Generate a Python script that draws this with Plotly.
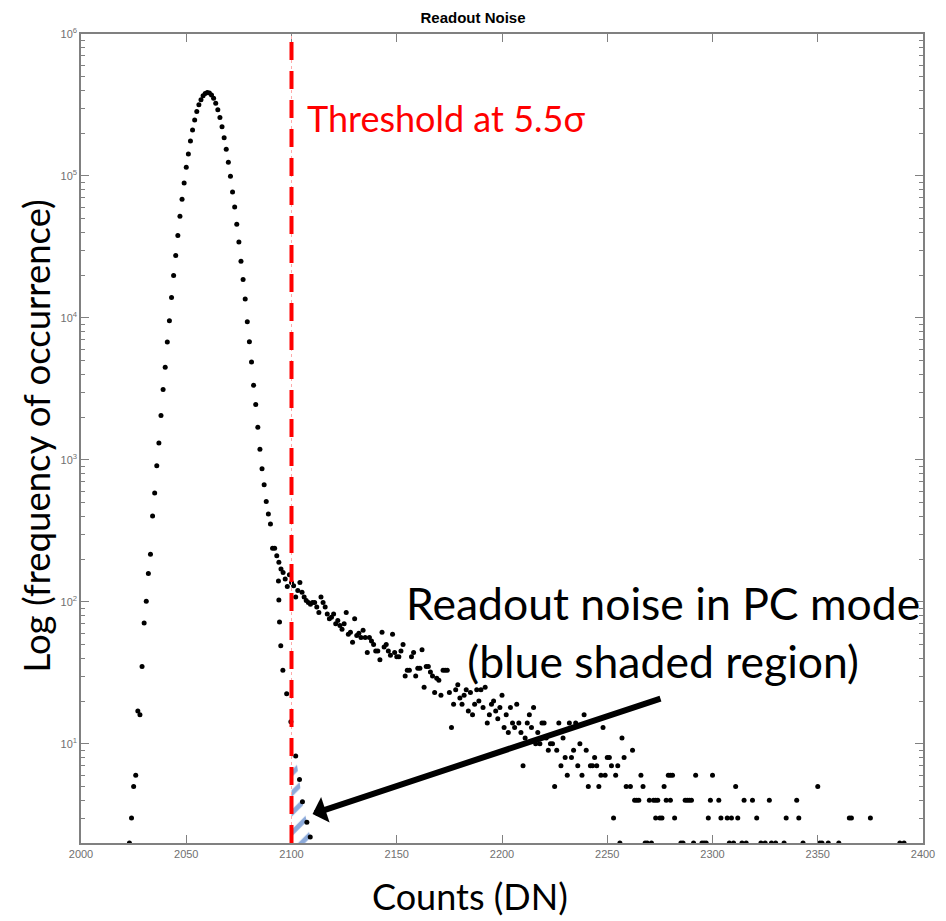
import numpy as np
import plotly.graph_objects as go

# ---------------- data ----------------
threshold_dn = 2100

# main histogram: Gaussian readout-noise peak plus the shoulder up to the threshold
main_dn = list(range(2023, 2101))
main_counts = [
    2, 3, 5, 6, 17, 16, 35, 71, 101, 158,
    216, 403, 585, 910, 1315, 2057, 3126, 4494, 6755, 9550,
    13930, 19900, 27540, 38110, 52000, 68550, 89330, 115100, 142900, 176600,
    210600, 248300, 284400, 317000, 343600, 367300, 381000, 387300, 383700, 371500,
    353200, 325800, 292400, 257600, 221800, 186200, 154200, 125000, 99540, 77090,
    60390, 45600, 34200, 25120, 18660, 13610, 9380, 6790, 4900, 3350,
    2455, 1700, 1190, 865, 667, 510, 415, 354, 238, 238,
    211, 190, 170, 161, 145, 128, 155, 137,
]

# steep continuation of the noise Gaussian (crosses the threshold)
noise_dn = [2093.8, 2094.0, 2094.3, 2094.9, 2095.9, 2097.7, 2099.7,
            2102.0, 2103.8, 2105.2, 2107.3, 2108.9]
noise_counts = [140, 103, 72, 49, 33, 22.5, 14.3, 8.2, 5.6, 3.9, 2.8, 2.2]

# slowly decaying tail above the threshold
tail_dn_a = list(range(2101, 2176))
tail_counts_a = [
    130, 108, 120, 137, 117, 108, 102, 99, 96, 99,
    99, 92, 84, 108, 99, 92, 82, 76, 78, 82,
    70, 74, 68, 64, 70, 84, 59, 61, 52, 76,
    58, 60, 56, 63, 56, 44, 56, 53, 50, 45,
    45, 39, 61, 48, 50, 45, 42, 59, 44, 41,
    41, 45, 50, 30, 33, 33, 41, 44, 30, 34,
    34, 46, 25, 35, 35, 32, 30, 23, 29, 28,
    22, 33, 33, 33, 23,
]
tail_dn_b = list(range(2176, 2260)) + [2261, 2262, 2263, 2264, 2265, 2266, 2267, 2268, 2269]
tail_counts_b = [
    13, 19, 24, 26, 21, 19, 22, 24, 17, 23,
    16, 19, 24, 20, 24, 18, 25, 14, 16, 19,
    20, 17, 15, 18, 22, 13, 16, 12, 18, 14,
    13, 19, 14, 12, 7, 11, 14, 16, 13, 18,
    10, 12, 10, 14, 14, 11, 9, 10, 10, 5,
    9, 14, 7, 11, 8, 6, 14, 8, 9, 14,
    7, 10, 6, 16, 9, 5, 7, 7, 8, 7,
    5, 6, 13, 6, 8, 8, 7, 3, 6, 7,
    2, 11, 8, 5,
    5, 9, 4, 4, 4, 6, 5, 2, 2,
]
tail_dn_c = [2270, 2271, 2272, 2273, 2273, 2274, 2275, 2276, 2277, 2278,
             2279, 2280, 2280, 2281, 2282, 2285, 2286, 2287, 2288, 2289,
             2290, 2291, 2292, 2295, 2296, 2297, 2298, 2299, 2300, 2303,
             2304, 2307, 2308, 2309, 2310, 2311, 2312, 2314, 2315, 2316,
             2319, 2321, 2323, 2325, 2327, 2328, 2330, 2334, 2335, 2340,
             2341, 2343, 2350, 2351, 2352, 2355, 2360, 2365, 2366, 2375,
             2389, 2391]
tail_counts_c = [4, 2, 4, 4, 3, 4, 3, 3, 5, 4,
                 6, 6, 4, 6, 3, 2, 2, 4, 4, 4,
                 4, 2, 6, 2, 2, 2, 3, 4, 6, 4,
                 3, 3, 2, 3, 2, 5, 3, 2, 4, 2,
                 4, 3, 2, 2, 4, 2, 2, 2, 3, 4,
                 3, 2, 5, 2, 2, 2, 2, 3, 3, 3,
                 2, 2]

x_ticks = [2000, 2050, 2100, 2150, 2200, 2250, 2300, 2350, 2400]
y_tick_vals = [10, 100, 1000, 10000, 100000, 1000000]
y_tick_text = ["10<sup>1</sup>", "10<sup>2</sup>", "10<sup>3</sup>",
               "10<sup>4</sup>", "10<sup>5</sup>", "10<sup>6</sup>"]
y_floor = 2  # bottom of the visible log axis

# arrow: from the label down to the shaded region
arrow_tail = (2276, 21)
arrow_head = (2110, 3.2)

# ---------------- figure ----------------
all_dn = main_dn + tail_dn_a + tail_dn_b + tail_dn_c + noise_dn
all_counts = main_counts + tail_counts_a + tail_counts_b + tail_counts_c + noise_counts

# shaded region under the noise points past the threshold
sel = [(x, y) for x, y in zip(noise_dn, noise_counts) if x >= threshold_dn]
hatch_x = [threshold_dn, threshold_dn] + [p[0] for p in sel] + [sel[-1][0]]
hatch_y = [y_floor, sel[0][1]] + [p[1] for p in sel] + [y_floor]

fig = go.Figure()
fig.add_trace(go.Scatter(
    x=hatch_x, y=hatch_y, fill="toself", mode="lines", line=dict(width=0),
    fillcolor="rgba(0,0,0,0)",
    fillpattern=dict(shape="/", fgcolor="#1a55b5", bgcolor="rgba(0,0,0,0)",
                     size=14, solidity=0.35),
    hoverinfo="skip", showlegend=False))
fig.add_trace(go.Scatter(
    x=all_dn, y=all_counts, mode="markers",
    marker=dict(color="black", size=5, line=dict(width=0)),
    showlegend=False))

fig.add_shape(type="line", xref="x", yref="paper", x0=threshold_dn, x1=threshold_dn,
              y0=0, y1=1, line=dict(color="#ffaaaa", width=1, dash="dot"))
fig.add_shape(type="line", xref="x", yref="paper", x0=threshold_dn, x1=threshold_dn,
              y0=0, y1=1, line=dict(color="#ff0000", width=4, dash="18px,11px"))

big_font = "Lato, 'Open Sans', sans-serif"
tick_font = dict(family="'Liberation Sans Narrow', 'Arial Narrow', 'Liberation Sans', Arial",
                 size=11, color="#707070")

fig.add_annotation(x=2106.5, y=np.log10(256000), xref="x", yref="y",
                   text="Threshold at 5.5σ", showarrow=False, xanchor="left", yanchor="middle",
                   font=dict(family=big_font, size=36, color="#ff0000"))
fig.add_annotation(x=2276.4, y=np.log10(62), xref="x", yref="y",
                   text="Readout noise in PC mode<br>(blue shaded region)", showarrow=False,
                   xanchor="center", yanchor="middle", align="center",
                   font=dict(family=big_font, size=44.5, color="black"))
fig.add_annotation(x=arrow_head[0], y=np.log10(arrow_head[1]), xref="x", yref="y",
                   ax=arrow_tail[0], ay=np.log10(arrow_tail[1]), axref="x", ayref="y",
                   text="", showarrow=True, arrowhead=1, arrowsize=0.75, arrowwidth=6,
                   arrowcolor="black")
fig.add_annotation(x=-0.053, y=0.503, xref="paper", yref="paper",
                   text="Log (frequency of occurrence)", textangle=-90, showarrow=False,
                   xanchor="center", yanchor="middle",
                   font=dict(family=big_font, size=36.5, color="black"))
fig.add_annotation(x=0.462, y=-0.066, xref="paper", yref="paper",
                   text="Counts (DN)", showarrow=False, xanchor="center", yanchor="middle",
                   font=dict(family=big_font, size=36, color="black"))

axis_common = dict(showline=True, linecolor="#808080", linewidth=1.5, mirror="ticks",
                   ticks="inside", ticklen=8, tickwidth=1, tickcolor="#808080",
                   showgrid=False, zeroline=False, tickfont=tick_font)
fig.update_xaxes(range=[2000, 2400], tickvals=x_ticks, **axis_common)
fig.update_yaxes(type="log", range=[np.log10(y_floor), 6],
                 tickvals=y_tick_vals, ticktext=y_tick_text,
                 minor=dict(ticks="inside", ticklen=4, tickcolor="#808080", dtick="D1",
                            showgrid=False),
                 **axis_common)

fig.update_layout(
    width=946, height=921,
    margin=dict(l=81, r=23, t=34, b=78),
    paper_bgcolor="white", plot_bgcolor="white",
    title=dict(text="<b>Readout Noise</b>", x=0.5, xanchor="center", y=1 - 18 / 921,
               yanchor="middle", font=dict(family="'Liberation Sans', Arial", size=15, color="black")),
)

fig.write_html("out.html")
